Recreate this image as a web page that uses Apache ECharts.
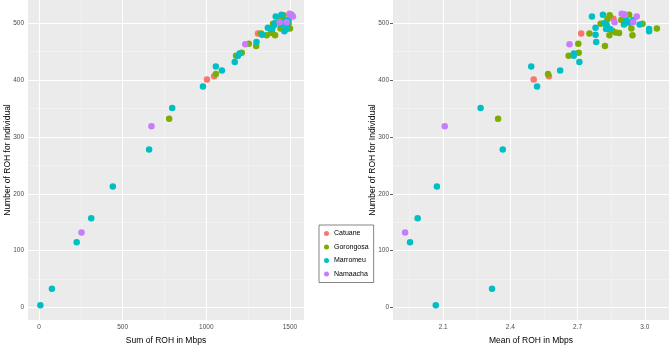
<!DOCTYPE html>
<html>
<head>
<meta charset="utf-8">
<script src="https://cdn.jsdelivr.net/npm/echarts@6/dist/echarts.min.js"></script>
<style>
  html, body { margin: 0; padding: 0; background: #fff; }
  #main { width: 669px; height: 350px; }
</style>
</head>
<body>
<div id="main"></div>
<script>
const groups = ['Catuane', 'Gorongosa', 'Marromeu', 'Namaacha'];
const colors = ['#F8766D', '#7CAE00', '#00BFC4', '#C77CFF'];

// one entry per individual
const pop = [
  'Marromeu', 'Marromeu', 'Gorongosa', 'Marromeu', 'Gorongosa', 'Marromeu', 'Marromeu', 'Gorongosa', 'Marromeu', 'Gorongosa',
  'Catuane', 'Marromeu', 'Gorongosa', 'Gorongosa', 'Gorongosa', 'Namaacha', 'Gorongosa', 'Gorongosa', 'Gorongosa', 'Namaacha',
  'Namaacha', 'Gorongosa', 'Marromeu', 'Marromeu', 'Marromeu', 'Gorongosa', 'Namaacha', 'Marromeu', 'Namaacha', 'Gorongosa',
  'Marromeu', 'Gorongosa', 'Marromeu', 'Marromeu', 'Gorongosa', 'Marromeu', 'Marromeu', 'Namaacha', 'Gorongosa', 'Gorongosa',
  'Marromeu', 'Marromeu', 'Gorongosa', 'Marromeu', 'Marromeu', 'Gorongosa', 'Catuane', 'Catuane', 'Marromeu', 'Marromeu',
  'Marromeu', 'Gorongosa', 'Namaacha', 'Marromeu', 'Marromeu', 'Marromeu', 'Namaacha', 'Marromeu', 'Marromeu', 'Marromeu',
  'Catuane', 'Catuane'
];
const nRoh = [
  512, 515, 514, 492, 499, 500, 490, 507, 480, 482,
  482, 467, 460, 479, 487, 502, 484, 483, 506, 517,
  515, 515, 498, 505, 501, 491, 502, 506, 512, 479,
  498, 499, 490, 486, 491, 497, 490, 463, 464, 443,
  447, 443, 448, 432, 417, 411, 407, 401, 389, 424,
  351, 332, 319, 278, 213, 157, 132, 115, 33, 4,
  516, 508
];
const sumRoh = [
  1415, 1449, 1461, 1368, 1399, 1409, 1385, 1436, 1334, 1327,
  1309, 1300, 1298, 1361, 1390, 1438, 1389, 1393, 1465, 1498,
  1500, 1509, 1448, 1474, 1468, 1444, 1480, 1492, 1518, 1411,
  1483, 1492, 1479, 1467, 1500, 1407, 1394, 1233, 1254, 1178,
  1199, 1189, 1212, 1170, 1093, 1057, 1047, 1004, 980, 1057,
  796, 778, 672, 658, 441, 312, 254, 225, 77, 8,
  1499, 1453
];
const meanRoh = [
  2.764, 2.813, 2.843, 2.780, 2.803, 2.818, 2.827, 2.833, 2.780, 2.753,
  2.716, 2.783, 2.822, 2.842, 2.855, 2.865, 2.870, 2.885, 2.895, 2.897,
  2.912, 2.930, 2.907, 2.918, 2.930, 2.940, 2.948, 2.948, 2.964, 2.945,
  2.977, 2.990, 3.019, 3.019, 3.054, 2.830, 2.845, 2.664, 2.703, 2.660,
  2.683, 2.683, 2.705, 2.708, 2.622, 2.568, 2.572, 2.504, 2.519, 2.493,
  2.267, 2.345, 2.107, 2.366, 2.072, 1.986, 1.930, 1.952, 2.318, 2.067,
  2.905, 2.860
];

const yTicks = [0, 100, 200, 300, 400, 500];
const yMinor = [50, 150, 250, 350, 450];
const sumTicks = [0, 500, 1000, 1500];
const sumMinor = [250, 750, 1250];
const meanTicks = [2.1, 2.4, 2.7, 3.0];
const meanMinor = [1.95, 2.25, 2.55, 2.85];

const font = 'Liberation Sans, Arial, sans-serif';

let myChart = echarts.init(document.getElementById('main'));

function xAxis(idx, min, max, ticks, name, fmt) {
  return {
    type: 'value', gridIndex: idx, min: min, max: max,
    name: name, nameLocation: 'middle', nameGap: 16,
    nameTextStyle: { color: '#000', fontSize: 8.5, fontFamily: font },
    axisLine: { show: false },
    axisTick: { show: true, customValues: ticks, length: 3, lineStyle: { color: '#333', width: 0.8 } },
    axisLabel: { customValues: ticks, color: '#4d4d4d', fontSize: 6.5, fontFamily: font, margin: 4, formatter: fmt },
    splitLine: { show: false }
  };
}

function yAxis(idx) {
  return {
    type: 'value', gridIndex: idx, min: -22, max: 541,
    name: 'Number of ROH for Individual', nameLocation: 'middle', nameGap: 16,
    nameMoveOverlap: false,
    nameTextStyle: { color: '#000', fontSize: 8.5, fontFamily: font },
    axisLine: { show: false },
    axisTick: { show: true, customValues: yTicks, length: 3, lineStyle: { color: '#333', width: 0.8 } },
    axisLabel: { customValues: yTicks, color: '#4d4d4d', fontSize: 6.5, fontFamily: font, margin: 4 },
    splitLine: { show: false }
  };
}

// white ggplot-style grid lines, drawn as mark lines under the points
function gridLines(idx, xMajor, xMinor) {
  const minor = { color: '#f5f5f5', width: 0.6 };
  const major = { color: '#fff', width: 1.1 };
  return {
    type: 'scatter', xAxisIndex: idx, yAxisIndex: idx, data: [], silent: true, z: 1,
    markLine: {
      z: 1, silent: true, symbol: 'none', animation: false,
      label: { show: false },
      emphasis: { disabled: true },
      lineStyle: { type: 'solid' },
      data: [
        ...xMinor.map((v) => ({ xAxis: v, lineStyle: minor })),
        ...yMinor.map((v) => ({ yAxis: v, lineStyle: minor })),
        ...xMajor.map((v) => ({ xAxis: v, lineStyle: major })),
        ...yTicks.map((v) => ({ yAxis: v, lineStyle: major }))
      ]
    }
  };
}

function points(idx, xs) {
  return groups.map((g, gi) => ({
    name: g, type: 'scatter', xAxisIndex: idx, yAxisIndex: idx, z: 3,
    symbolSize: 6.5,
    itemStyle: { color: colors[gi], opacity: 1 },
    data: pop.map((p, i) => (p === g ? [xs[i], nRoh[i]] : null)).filter((d) => d)
  }));
}

myChart.setOption({
  animation: false,
  color: colors,
  grid: [
    { left: 28, top: 0, width: 276, height: 327, show: true, backgroundColor: '#EBEBEB', borderWidth: 0 },
    { left: 393, top: 0, width: 276, height: 327, show: true, backgroundColor: '#EBEBEB', borderWidth: 0 }
  ],
  legend: {
    data: groups, orient: 'vertical', left: 319, top: 225,
    backgroundColor: '#fff', borderColor: '#333', borderWidth: 0.6,
    padding: [4, 5, 4, 5], itemGap: 4.5, itemWidth: 5, itemHeight: 5, icon: 'circle',
    textStyle: { fontSize: 7, color: '#000', fontFamily: font, lineHeight: 9 }
  },
  xAxis: [
    xAxis(0, -66, 1584, sumTicks, 'Sum of ROH in Mbps', (v) => String(v)),
    xAxis(1, 1.876, 3.108, meanTicks, 'Mean of ROH in Mbps', (v) => v.toFixed(1))
  ],
  yAxis: [yAxis(0), yAxis(1)],
  series: [
    gridLines(0, sumTicks, sumMinor),
    gridLines(1, meanTicks, meanMinor),
    ...points(0, sumRoh),
    ...points(1, meanRoh)
  ]
});
</script>
</body>
</html>
